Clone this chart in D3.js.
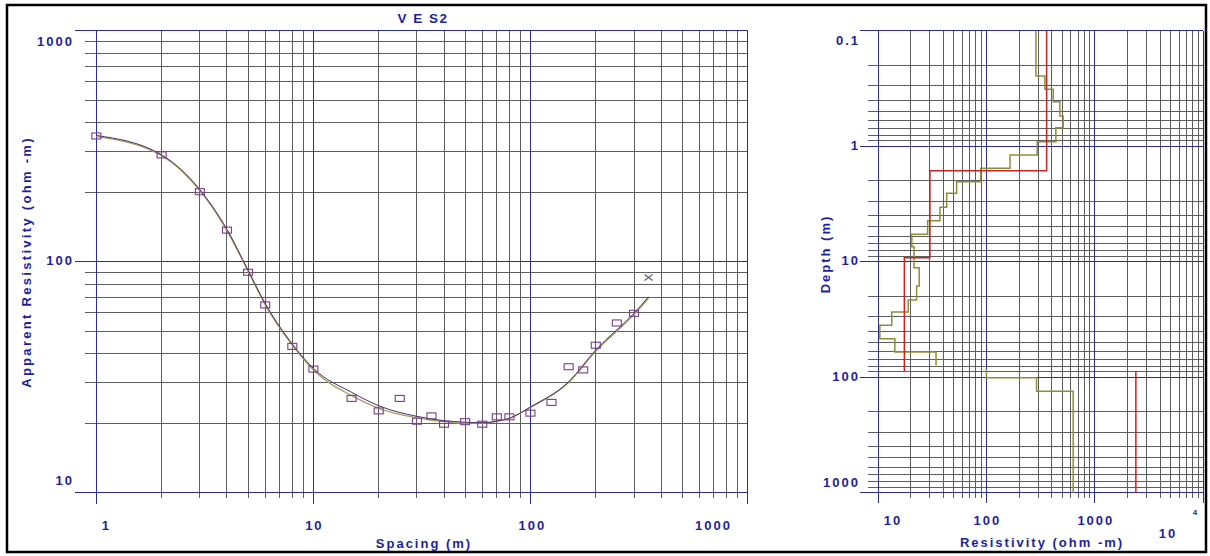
<!DOCTYPE html>
<html>
<head>
<meta charset="utf-8">
<script src="https://cdn.jsdelivr.net/npm/d3@7"></script>
<style>
  body { margin: 0; background: #fff; }
  svg { display: block; }
  text { font-family: "Liberation Sans", Arial, sans-serif; font-weight: bold; fill: #1e1ea0; }
</style>
</head>
<body>
<div id="chart"></div>
<script>
// sounding data (spacing in m, apparent resistivity in ohm-m)
var spacing = [1, 2, 3, 4, 5, 6, 8, 10, 15, 20, 25, 30, 35, 40, 50, 60, 70, 80, 100, 125, 150, 175, 200, 250, 300];
var appRes  = [350, 290, 201, 137, 90, 65, 43, 34.3, 25.6, 22.6, 25.6, 20.4, 21.5, 19.8, 20.3, 19.8, 21.3, 21.3, 22.1, 24.6, 35.1, 34, 43.5, 54.3, 59.8];
var maskedSpacing = [350];
var maskedRes = [85.5];

// calculated curves
var curveSpacing = [1, 2, 3, 4, 5, 6, 8, 10, 15, 20, 30, 40, 50, 60, 70, 80, 100, 150, 200, 300, 350];
var calcRes   = [352, 290, 205, 138, 92, 66, 44, 34.5, 27.2, 23.8, 21.4, 20.5, 20.2, 20.1, 20.4, 21, 23.5, 30.2, 41.5, 59.8, 70.5];
var smoothRes = [348, 288, 203, 136, 91, 65, 43.5, 34, 26.3, 23.2, 21.1, 20.3, 20.0, 20.0, 20.4, 21, 23.4, 30, 41, 59, 69.5];

// layered model (red)
var layerRes   = [359, 30.1, 17.5];
var layerDepth = [1.63, 9.23, 88.4];
var halfSpaceRes = 2388;

// smooth model (olive)
var smoothModelRes   = [286, 346, 413, 476, 510, 437, 294, 165, 88.5, 53.1, 43, 37.3, 28.7, 20.5, 21.5, 24.0, 22.7, 19.0, 13.4, 10.4, 14.3, 34.3];
var smoothModelDepth = [0.247, 0.321, 0.412, 0.548, 0.692, 0.914, 1.19, 1.55, 2.03, 2.56, 3.38, 4.42, 5.79, 7.42, 11.3, 16.2, 21.5, 27.3, 35.5, 46.4, 60.5, 78.9];
var deepModelRes   = [100, 290, 631];
var deepModelDepth = [101, 132, 1000];

var width = 1210, height = 556;
var blue = "#2c2c96", gray = "#5e5e5e";

var svg = d3.select("#chart").append("svg")
    .attr("width", width)
    .attr("height", height);

// outer frame
svg.append("rect")
    .attr("x", 7).attr("y", 5)
    .attr("width", 1199).attr("height", 547)
    .attr("fill", "none")
    .attr("stroke", "#000")
    .attr("stroke-width", 2.5);

function logTicks(lo, hi) {
  var t = [];
  for (var p = lo; p < hi; p *= 10) {
    for (var k = 1; k < 10; k++) t.push(+(p * k).toPrecision(3));
  }
  t.push(hi);
  return t;
}
function isDecade(v) {
  var l = Math.log10(v);
  return Math.abs(l - Math.round(l)) < 1e-6;
}

// ---------- left: sounding curve ----------
var x = d3.scaleLog().domain([1, 1000]).range([96.3, 747.5]);
var y = d3.scaleLog().domain([10, 1000]).range([492.7, 30.7]);

var left = svg.append("g").attr("shape-rendering", "crispEdges");

var xt = logTicks(1, 1000);
var yt = logTicks(10, 1000);

left.selectAll(".vx").data(xt.filter(function(d){ return !isDecade(d); }))
  .enter().append("line")
    .attr("x1", function(d){ return x(d); }).attr("x2", function(d){ return x(d); })
    .attr("y1", y(1000)).attr("y2", 498)
    .attr("stroke", gray);
left.selectAll(".hy").data(yt.filter(function(d){ return !isDecade(d); }))
  .enter().append("line")
    .attr("x1", 85).attr("x2", x(1000))
    .attr("y1", function(d){ return y(d); }).attr("y2", function(d){ return y(d); })
    .attr("stroke", gray);
left.selectAll(".vxm").data(xt.filter(isDecade))
  .enter().append("line")
    .attr("x1", function(d){ return x(d); }).attr("x2", function(d){ return x(d); })
    .attr("y1", y(1000)).attr("y2", 504)
    .attr("stroke", blue);
left.selectAll(".hym").data(yt.filter(isDecade))
  .enter().append("line")
    .attr("x1", 75).attr("x2", x(1000))
    .attr("y1", function(d){ return y(d); }).attr("y2", function(d){ return y(d); })
    .attr("stroke", blue);

// tick labels (end labels are pulled inside the frame)
var xLabelShift = {1: 9, 10: 0, 100: 1, 1000: -35};
svg.selectAll(".xl").data([1, 10, 100, 1000]).enter().append("text")
    .attr("x", function(d){ return x(d) + xLabelShift[d] + 1; })
    .attr("y", 530)
    .attr("text-anchor", "middle")
    .attr("font-size", 13)
    .attr("letter-spacing", 2)
    .text(function(d){ return d; });
var yLabelY = {1000: 46, 100: 265, 10: 485};
svg.selectAll(".yl").data([1000, 100, 10]).enter().append("text")
    .attr("x", 74)
    .attr("y", function(d){ return yLabelY[d]; })
    .attr("text-anchor", "end")
    .attr("font-size", 13)
    .attr("letter-spacing", 2)
    .text(function(d){ return d; });

svg.append("text")
    .attr("x", 423).attr("y", 23)
    .attr("text-anchor", "middle")
    .attr("font-size", 13.5)
    .attr("letter-spacing", 1.5)
    .text("V E S2");
svg.append("text")
    .attr("x", 424).attr("y", 548)
    .attr("text-anchor", "middle")
    .attr("font-size", 13)
    .attr("letter-spacing", 2)
    .text("Spacing  (m)");
svg.append("text")
    .attr("transform", "translate(31,262) rotate(-90)")
    .attr("text-anchor", "middle")
    .attr("font-size", 13)
    .attr("letter-spacing", 2.3)
    .text("Apparent Resistivity  (ohm -m)");

// curves
var line = d3.line()
    .x(function(d){ return x(d[0]); })
    .y(function(d){ return y(d[1]); })
    .curve(d3.curveMonotoneX);

svg.append("path")
    .datum(d3.zip(curveSpacing, smoothRes))
    .attr("d", line)
    .attr("fill", "none")
    .attr("stroke", "#a4a25a")
    .attr("stroke-width", 1.3);
svg.append("path")
    .datum(d3.zip(curveSpacing, calcRes))
    .attr("d", line)
    .attr("fill", "none")
    .attr("stroke", "#4a2d6e")
    .attr("stroke-width", 1);

// observed points
svg.selectAll(".pt").data(d3.zip(spacing, appRes)).enter().append("rect")
    .attr("x", function(d){ return x(d[0]) - 4.5; })
    .attr("y", function(d){ return y(d[1]) - 3; })
    .attr("width", 9).attr("height", 6)
    .attr("fill", "none")
    .attr("stroke", "#7a3c8c")
    .attr("stroke-width", 1.1);

// masked point
svg.selectAll(".mk").data(d3.zip(maskedSpacing, maskedRes)).enter().append("path")
    .attr("d", function(d){
      var cx = x(d[0]), cy = y(d[1]);
      return "M" + (cx - 4) + "," + (cy - 3) + "L" + (cx + 4) + "," + (cy + 3) +
             "M" + (cx - 4) + "," + (cy + 3) + "L" + (cx + 4) + "," + (cy - 3);
    })
    .attr("stroke", "#6a5a7a")
    .attr("stroke-width", 1.2);

// ---------- right: model ----------
var rx = d3.scaleLog().domain([10, 10000]).range([878, 1203.3]);
var ry = d3.scaleLog().domain([0.1, 1000]).range([30.7, 492.7]);

var right = svg.append("g").attr("shape-rendering", "crispEdges");
var rxt = logTicks(10, 10000);
var ryt = logTicks(0.1, 1000);

right.selectAll(".rvx").data(rxt.filter(function(d){ return !isDecade(d); }))
  .enter().append("line")
    .attr("x1", function(d){ return rx(d); }).attr("x2", function(d){ return rx(d); })
    .attr("y1", ry(0.1)).attr("y2", 498)
    .attr("stroke", gray);
right.selectAll(".rhy").data(ryt.filter(function(d){ return !isDecade(d); }))
  .enter().append("line")
    .attr("x1", 868).attr("x2", rx(10000))
    .attr("y1", function(d){ return ry(d); }).attr("y2", function(d){ return ry(d); })
    .attr("stroke", gray);
right.selectAll(".rvxm").data(rxt.filter(isDecade))
  .enter().append("line")
    .attr("x1", function(d){ return rx(d); }).attr("x2", function(d){ return rx(d); })
    .attr("y1", ry(0.1)).attr("y2", 503)
    .attr("stroke", blue);
right.selectAll(".rhym").data(ryt.filter(isDecade))
  .enter().append("line")
    .attr("x1", 860).attr("x2", rx(10000))
    .attr("y1", function(d){ return ry(d); }).attr("y2", function(d){ return ry(d); })
    .attr("stroke", blue);

var rxLabelShift = {10: 15, 100: 1, 1000: 1};
svg.selectAll(".rxl").data([10, 100, 1000]).enter().append("text")
    .attr("x", function(d){ return rx(d) + rxLabelShift[d]; })
    .attr("y", 525)
    .attr("text-anchor", "middle")
    .attr("font-size", 13)
    .attr("letter-spacing", 2)
    .text(function(d){ return d; });
svg.append("text")
    .attr("x", 1168).attr("y", 538)
    .attr("text-anchor", "middle")
    .attr("font-size", 13)
    .attr("letter-spacing", 2)
    .text("10");
svg.append("text")
    .attr("x", 1195).attr("y", 515)
    .attr("text-anchor", "middle")
    .attr("font-size", 8)
    .text("4");

var ryLabelY = {"0.1": 45, "1": 150, "10": 265, "100": 381, "1000": 487};
svg.selectAll(".ryl").data(["0.1", "1", "10", "100", "1000"]).enter().append("text")
    .attr("x", 860)
    .attr("y", function(d){ return ryLabelY[d]; })
    .attr("text-anchor", "end")
    .attr("font-size", 13)
    .attr("letter-spacing", 2)
    .text(function(d){ return d; });

svg.append("text")
    .attr("x", 1042).attr("y", 547)
    .attr("text-anchor", "middle")
    .attr("font-size", 13)
    .attr("letter-spacing", 2)
    .text("Resistivity  (ohm -m)");
svg.append("text")
    .attr("transform", "translate(830,254) rotate(-90)")
    .attr("text-anchor", "middle")
    .attr("font-size", 13)
    .attr("letter-spacing", 2)
    .text("Depth  (m)");

function stepPoints(res, depth, top) {
  var pts = [[res[0], top]];
  res.forEach(function(r, i){
    pts.push([r, depth[i]]);
    if (i + 1 < res.length) pts.push([res[i + 1], depth[i]]);
  });
  return pts;
}
var stepLine = d3.line()
    .x(function(d){ return rx(d[0]); })
    .y(function(d){ return ry(d[1]); });

var model = svg.append("g").attr("fill", "none");
model.append("path")
    .attr("d", stepLine(stepPoints(smoothModelRes, smoothModelDepth, 0.1)))
    .attr("stroke", "#8e8e38").attr("stroke-width", 1.5);
model.append("path")
    .attr("d", stepLine(stepPoints(deepModelRes, deepModelDepth, 85)))
    .attr("stroke", "#8e8e38").attr("stroke-width", 1.5);
model.append("path")
    .attr("d", stepLine(stepPoints(layerRes, layerDepth, 0.1)))
    .attr("stroke", "#cc2222").attr("stroke-width", 1.5);
model.append("path")
    .attr("d", stepLine([[halfSpaceRes, layerDepth[layerDepth.length - 1]], [halfSpaceRes, 1000]]))
    .attr("stroke", "#d02020").attr("stroke-width", 1.5);
</script>
</body>
</html>
